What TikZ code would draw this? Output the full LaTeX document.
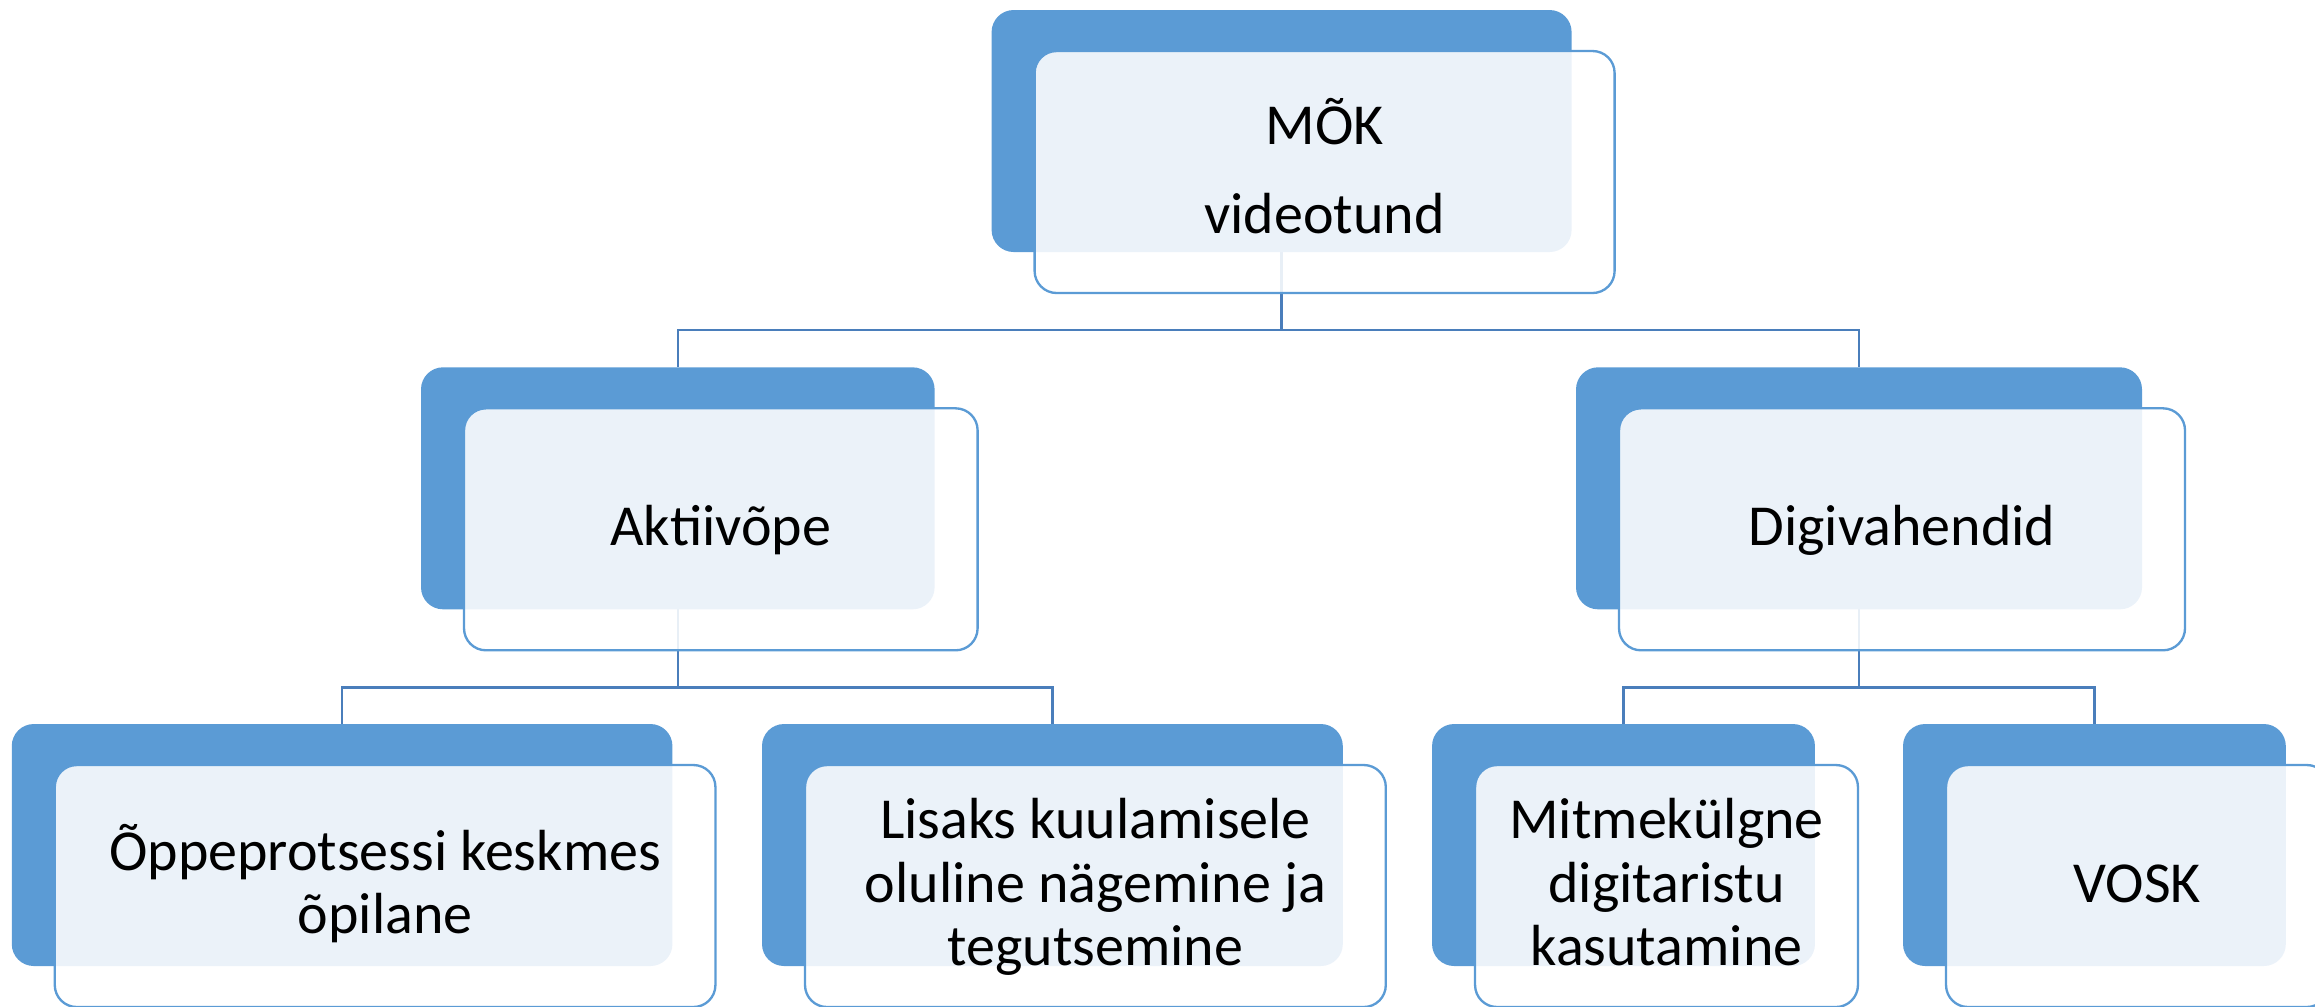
\documentclass[tikz,border=0pt]{standalone}
\usepackage{fontspec}
\setmainfont{Carlito}
\definecolor{accent}{HTML}{5B9BD5}
\definecolor{connc}{HTML}{4A7EBB}
\pgfdeclarelayer{bg}
\pgfsetlayers{bg,main}
\begin{document}
\begin{tikzpicture}[x=0.3pt,y=-0.3pt,
  back/.style={rectangle, rounded corners=6.6pt, fill=accent, draw=none, inner sep=0pt, outer sep=0pt, minimum height=72.6pt},
  front/.style={rectangle, rounded corners=6.6pt, draw=accent, line width=0.7pt, fill=white, fill opacity=0.88, inner sep=0pt, outer sep=0pt, minimum height=72.6pt},
  txt/.style={anchor=base, inner sep=0pt, text=black, font=\fontsize{17.4pt}{19.05pt}\selectfont},
  conn/.style={draw=connc, line width=0.75pt},
  fshift/.style={xshift=12.9pt, yshift=-12.3pt}]
\useasboundingbox (0,0) rectangle (2315,1006);
% level 1
\node[back, minimum width=174pt] (b0) at (1281.6,131) {};
\node[front, minimum width=174pt] (f0) at ([fshift]b0.center) {};
\node[txt] (t0) at ([yshift=8.4pt]f0.center) {\begin{tabular}[t]{@{}c@{}}MÕK\\[7.65pt]videotund\end{tabular}};
% level 2
\node[back, minimum width=154.08pt] (b1) at (677.8,488.3) {};
\node[front, minimum width=154.08pt] (f1) at ([fshift]b1.center) {};
\node[txt] (t1) at ([yshift=-4.8pt]f1.center) {Aktiivõpe};
\node[back, minimum width=169.8pt] (b2) at (1859,488.3) {};
\node[front, minimum width=169.8pt] (f2) at ([fshift]b2.center) {};
\node[txt] (t2) at ([yshift=-4.8pt]f2.center) {Digivahendid};
% level 3
\node[back, minimum width=198.2pt] (b11) at (342.1,845) {};
\node[front, minimum width=198.2pt] (f11) at ([fshift]b11.center) {};
\node[txt] (t11) at ([yshift=4.7pt]f11.center) {\begin{tabular}[t]{@{}c@{}}Õppeprotsessi keskmes\\õpilane\end{tabular}};
\node[back, minimum width=174.24pt] (b12) at (1052.4,845) {};
\node[front, minimum width=174.24pt] (f12) at ([fshift]b12.center) {};
\node[txt] (t12) at ([yshift=14.25pt]f12.center) {\begin{tabular}[t]{@{}c@{}}Lisaks kuulamisele\\oluline nägemine ja\\tegutsemine\end{tabular}};
\node[back, minimum width=114.87pt] (b21) at (1623.5,845) {};
\node[front, minimum width=114.87pt] (f21) at ([fshift]b21.center) {};
\node[txt] (t21) at ([yshift=14.25pt]f21.center) {\begin{tabular}[t]{@{}c@{}}Mitmekülgne\\digitaristu\\kasutamine\end{tabular}};
\node[back, minimum width=114.84pt] (b22) at (2094.4,845) {};
\node[front, minimum width=114.84pt] (f22) at ([fshift]b22.center) {};
\node[txt] (t22) at ([yshift=-4.8pt]f22.center) {VOSK};
% connectors
\begin{pgfonlayer}{bg}
\draw[conn] (b0.south) -- ++(0,78) -| (b1.north);
\draw[conn] (b0.south) -- ++(0,78) -| (b2.north);
\draw[conn] (b1.south) -- ++(0,78) -| (b11.north);
\draw[conn] (b1.south) -- ++(0,78) -| (b12.north);
\draw[conn] (b2.south) -- ++(0,78) -| (b21.north);
\draw[conn] (b2.south) -- ++(0,78) -| (b22.north);
\end{pgfonlayer}
\end{tikzpicture}
\end{document}
